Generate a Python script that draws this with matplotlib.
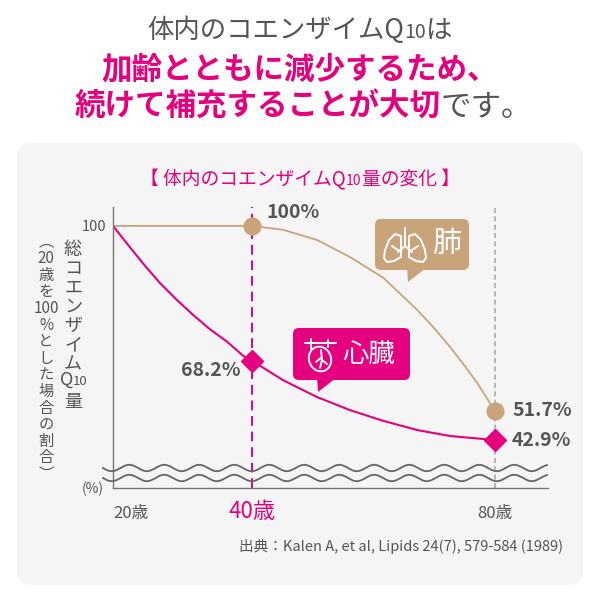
import numpy as np
import matplotlib
matplotlib.use("Agg")
import matplotlib.pyplot as plt
from matplotlib.patches import FancyBboxPatch, Polygon, Ellipse

plt.rcParams['font.family'] = ['Noto Sans CJK JP', 'DejaVu Sans']

PINK = '#e5007f'
TAN = '#c9a47b'
GRAY = '#555555'

# data (age, % of the value at age 20)
ages_lung = [20, 40, 44.7, 50.1, 55.4, 60.9, 66.6, 69.3, 72.2, 75.1, 76.9, 80]
lung_pct = [100, 100, 99.1, 96.7, 92.7, 87.8, 80.2, 76.2, 71.5, 65.6, 60.9, 51.7]
ages_heart = [20, 21.9, 24.1, 26.4, 28.8, 31.2, 33.6, 36.2, 38.6, 40,
              44.7, 50.1, 55.4, 60.9, 66.6, 72.2, 77.9, 80]
heart_pct = [100, 95.8, 91.1, 86.6, 82.6, 79.0, 75.7, 72.7, 69.4, 68.2,
             61.9, 56.3, 52.0, 48.7, 45.9, 44.1, 43.2, 42.9]
mark_ages = [40, 80]
lung_marks = [100, 51.7]
heart_marks = [68.2, 42.9]
lung_labels = ['100%', '51.7%']
heart_labels = ['68.2%', '42.9%']
age_labels = ['20歳', '40歳', '80歳']
age_ticks = [20, 40, 80]

# the original chart is drawn free-hand, so the vertical axis is not linear
sc_vals = [0, 42.9, 51.7, 68.2, 100, 120]
sc_pos = [-141.6, 0, 29, 79, 214, 300]


def y_fwd(v):
    return np.interp(v, sc_vals, sc_pos)


def y_inv(p):
    return np.interp(p, sc_pos, sc_vals)


def x_fwd(x):
    x = np.asarray(x, dtype=float)
    return np.sign(x) * np.abs(x) ** 0.8


def x_inv(x):
    x = np.asarray(x, dtype=float)
    return np.sign(x) * np.abs(x) ** 1.25


fig = plt.figure(figsize=(6, 6), dpi=100)
renderer = fig.canvas.get_renderer()

# background layer in pixel coordinates
bg = fig.add_axes([0, 0, 1, 1], zorder=0)
bg.set_xlim(0, 600)
bg.set_ylim(600, 0)
bg.axis('off')


def text_runs(xc, y, runs):
    # draw several styled pieces side by side, centred on xc
    arts = []
    for s, size, color, weight in runs:
        arts.append(bg.text(0, y, s, ha='left', va='baseline', fontsize=size, color=color,
                            fontweight=weight))
    widths = [a.get_window_extent(renderer).width for a in arts]
    x = xc - sum(widths) / 2
    for a, w in zip(arts, widths):
        a.set_x(x)
        x += w


bg.add_patch(FancyBboxPatch((17, 143), 566, 442, boxstyle='round,pad=0,rounding_size=14',
                            fc='#f5f5f5', ec='none'))

text_runs(300, 38, [('体内のコエンザイムQ', 19, GRAY, 'normal'), ('10', 14, GRAY, 'normal'),
                    ('は', 19, GRAY, 'normal')])
bg.text(300, 69, '加齢とともに減少するため、', ha='center', va='center', fontsize=22,
        color=PINK, fontweight='bold')
text_runs(303, 116, [('続けて補充することが大切', 22, PINK, 'bold'), ('です。', 22, GRAY, 'normal')])

text_runs(300, 185, [('【 体内のコエンザイムQ', 13.5, PINK, 'normal'), ('10', 10, PINK, 'normal'),
                     ('量の変化 】', 13.5, PINK, 'normal')])

# vertical axis title
main_chars = ['総', 'コ', 'エ', 'ン', 'ザ', 'イ', 'ム', 'Q', '量']
for i, ch in enumerate(main_chars):
    if ch == 'Q':
        bg.text(73, 385, 'Q', ha='right', va='baseline', fontsize=13, color=GRAY)
        bg.text(73, 385, '10', ha='left', va='baseline', fontsize=9.5, color=GRAY)
    else:
        bg.text(73, 250 + i * 19, ch, ha='center', va='center', fontsize=13, color=GRAY)
sub_chars = ['︵', '20', '歳', 'を', '100', '%', 'と', 'し', 'た', '場', '合', 'の', '割', '合', '︶']
for i, ch in enumerate(sub_chars):
    bg.text(46, 242 + i * 16.6, ch, ha='center', va='center', fontsize=11, color=GRAY)

bg.text(104, 489, '(%)', ha='right', va='center', fontsize=10, color=GRAY)
bg.text(563, 547, '出典：Kalen A, et al, Lipids 24(7), 579-584 (1989)', ha='right',
        va='center', fontsize=10.5, color=GRAY)

# chart
ax = fig.add_axes([113 / 600, 112 / 600, 435 / 600, 281 / 600], zorder=1)
ax.set_facecolor('none')
ax.set_xscale('function', functions=(x_fwd, x_inv))
ax.set_yscale('function', functions=(y_fwd, y_inv))
ax.set_xlim(20, 89.4)
ax.set_ylim(28.35, 104.4)
for s in ['top', 'right']:
    ax.spines[s].set_visible(False)
for s in ['left', 'bottom']:
    ax.spines[s].set_color('#777777')
    ax.spines[s].set_linewidth(1.0)
ax.set_xticks([])
ax.set_yticks([100])
ax.set_yticklabels(['100'], fontsize=10.5, color=GRAY)
ax.tick_params(axis='y', length=0, pad=5)
ax.minorticks_off()

ax.axvline(40, color=PINK, lw=1.4, ls=(0, (5, 3)), zorder=1)
ax.axvline(80, color='#aaaaaa', lw=1.2, ls=(0, (3, 2)), zorder=1)

ax.plot(ages_lung, lung_pct, color=TAN, lw=1.3, zorder=2)
ax.plot(ages_heart, heart_pct, color=PINK, lw=1.5, zorder=2)
ax.plot(mark_ages, lung_marks, 'o', ms=12, color=TAN, zorder=3)
ax.plot(mark_ages, heart_marks, 'D', ms=11, color=PINK, zorder=3)

lung_off = [(14, 13), (17, 0)]
heart_off = [(-12, -10), (17, -1)]
lung_ha = ['left', 'left']
heart_ha = ['right', 'left']
for a, v, t, o, h in zip(mark_ages, lung_marks, lung_labels, lung_off, lung_ha):
    ax.annotate(t, (a, v), xytext=o, textcoords='offset pixels', ha=h, va='center',
                fontsize=14, fontweight='bold', color=GRAY)
for a, v, t, o, h in zip(mark_ages, heart_marks, heart_labels, heart_off, heart_ha):
    ax.annotate(t, (a, v), xytext=o, textcoords='offset pixels', ha=h, va='center',
                fontsize=14, fontweight='bold', color=GRAY)

# age labels under the axis
xt = ax.get_xaxis_transform()
ax.text(age_ticks[0], -0.09, age_labels[0], transform=xt, ha='left', va='center',
        fontsize=12, color=GRAY)
ax.text(age_ticks[1], -0.085, age_labels[1], transform=xt, ha='center', va='center',
        fontsize=16, color=PINK)
ax.text(age_ticks[2], -0.09, age_labels[2], transform=xt, ha='center', va='center',
        fontsize=12, color=GRAY)

# axis break waves
wx = np.linspace(103, 547, 400)
for y0 in [468, 478]:
    ax.plot(wx, y0 + 3.2 * np.sin(2 * np.pi * (wx - 103) / 35), color='#666666', lw=1.3,
            transform=bg.transData, clip_on=False, zorder=5)

# callouts
def callout(x0, y0, w, h, tail, color):
    ax.add_patch(FancyBboxPatch((x0, y0), w, h, boxstyle='round,pad=0,rounding_size=6',
                                fc=color, ec='none', transform=bg.transData, clip_on=False,
                                zorder=6))
    ax.add_patch(Polygon(tail, closed=True, fc=color, ec='none', transform=bg.transData,
                         clip_on=False, zorder=6))


callout(375, 219, 94, 51, [(407, 268), (426, 268), (408, 282)], TAN)
callout(293, 328, 117, 52, [(317, 378), (336, 378), (318, 392)], PINK)

ax.text(447, 244, '肺', ha='center', va='center', fontsize=21, color='white',
        transform=bg.transData, zorder=7)
ax.text(369, 354, '心臓', ha='center', va='center', fontsize=19, color='white',
        transform=bg.transData, zorder=7)

icon = dict(color='white', lw=1.4, transform=bg.transData, clip_on=False, zorder=7,
            solid_capstyle='round')
# lungs
left_lobe = [(401, 236), (395, 234), (389, 240), (385, 250), (384, 258), (387, 262),
             (394, 261), (401, 257), (401, 245)]
right_lobe = [(810 - x, y) for x, y in left_lobe]
for lobe in [left_lobe, right_lobe]:
    ax.add_patch(Polygon(lobe, closed=True, fc='none', ec='white', lw=1.4,
                         joinstyle='round', transform=bg.transData, clip_on=False, zorder=7))
ax.plot([405, 405], [228, 246], **icon)
ax.plot([398, 405, 412], [252, 246, 252], **icon)
ax.plot([392, 398], [246, 250], **icon)
ax.plot([418, 412], [246, 250], **icon)
# heart
ax.add_patch(Ellipse((320, 359), 22, 25, angle=-20, fc='none', ec='white', lw=1.4,
                     transform=bg.transData, clip_on=False, zorder=7))
ax.plot([305, 336], [343, 343], **icon)
ax.plot([311, 311], [339, 350], **icon)
ax.plot([328, 328], [340, 347], **icon)
ax.plot([321, 322, 320], [350, 360, 368], **icon)
ax.plot([322, 316], [357, 362], **icon)
ax.plot([322, 327], [360, 364], **icon)

fig.savefig('out.png', dpi=100)
